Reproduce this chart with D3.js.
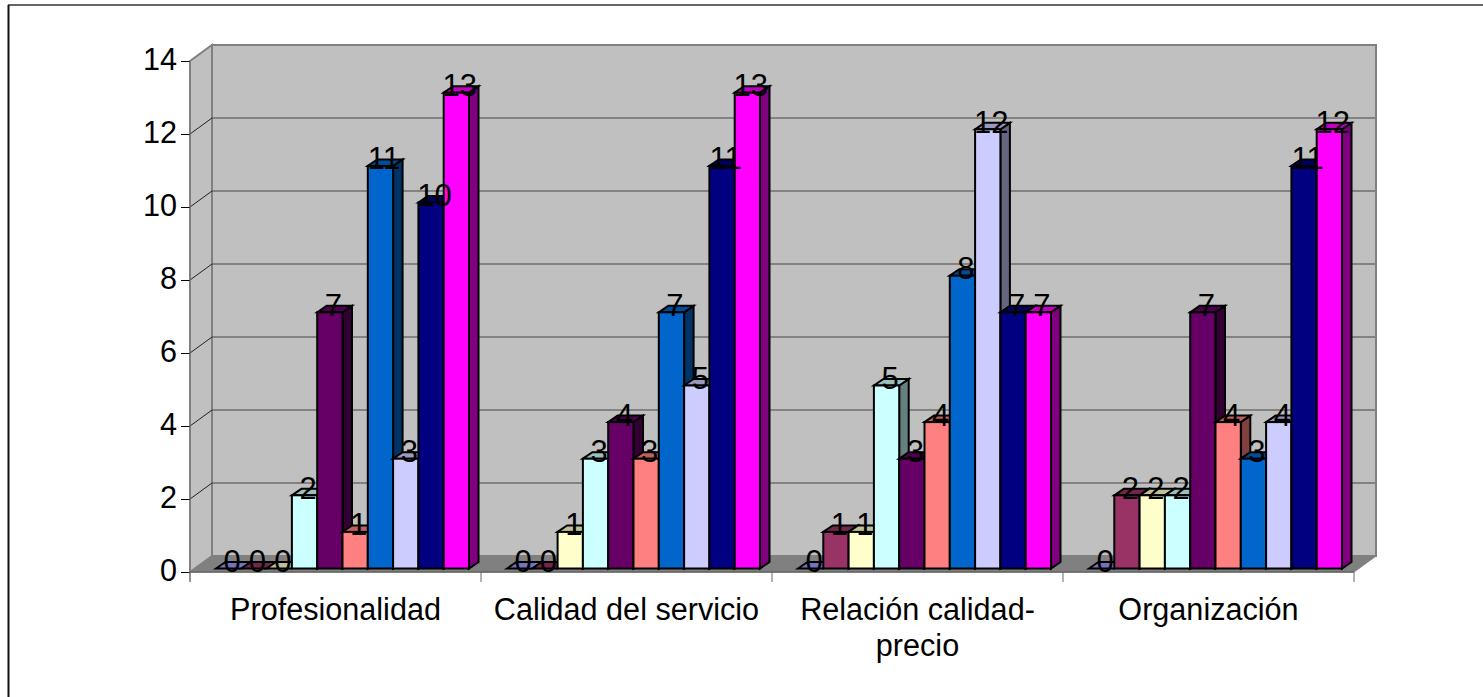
<!DOCTYPE html>
<html><head><meta charset="utf-8">
<script src="https://cdn.jsdelivr.net/npm/d3@7/dist/d3.min.js"></script>
<style>html,body{margin:0;padding:0;background:#fff}svg{display:block}text{font-family:"Liberation Sans",Arial,sans-serif;fill:#000}</style>
</head><body><svg id="c" width="1483" height="697"></svg>
<script>
const categories = ["Profesionalidad","Calidad del servicio","Relación calidad-precio","Organización"];
const categoryLines = [["Profesionalidad"],["Calidad del servicio"],["Relación calidad-","precio"],["Organización"]];
const seriesColors = ["#9999FF","#993366","#FFFFCC","#CCFFFF","#660066","#FF8080","#0066CC","#CCCCFF","#000080","#FF00FF"];
const s0 = [0,0,0,0], s1 = [0,0,1,2], s2 = [0,1,1,2], s3 = [2,3,5,2], s4 = [7,4,3,7];
const s5 = [1,3,4,4], s6 = [11,7,8,3], s7 = [3,5,12,4], s8 = [10,11,7,11], s9 = [13,13,7,12];
const seriesValues = [s0,s1,s2,s3,s4,s5,s6,s7,s8,s9];
const yTicks = [0,2,4,6,8,10,12,14];

const svg = d3.select("#c");
const L=190,R=1354,B=572,T=61,DX=22,DY=16;
const y = d3.scaleLinear().domain([0,14]).range([B,T]);
const x0 = d3.scaleBand().domain(categories).range([L,R]).paddingInner(0).paddingOuter(0);
const x1 = d3.scaleBand().domain(d3.range(10)).range([26,26+253]);
const barBase=568.5, barDX=9.5, barDY=6.5;
const yBar = d3.scaleLinear().domain([0,14]).range([barBase,barBase-14*36.6]);

svg.append("line").attr("x1",8).attr("x2",1483).attr("y1",5).attr("y2",5).attr("stroke","#333").attr("stroke-width",1.5);
svg.append("line").attr("x1",8.5).attr("x2",8.5).attr("y1",5).attr("y2",697).attr("stroke","#111").attr("stroke-width",2);

// walls
const wall="#C0C0C0", edge="#808080";
const poly=(pts,fill,stroke,sw)=>svg.append("polygon").attr("points",pts.map(p=>p.join(",")).join(" ")).attr("fill",fill).attr("stroke",stroke||"none").attr("stroke-width",sw||0);
poly([[L+DX,T-DY],[R+DX,T-DY],[R+DX,B-DY],[L+DX,B-DY]],wall,edge,2);
poly([[L,T],[L+DX,T-DY],[L+DX,B-DY],[L,B]],wall,edge,2);
poly([[L,B],[L+DX,B-DY],[R+DX,B-DY],[R,B]],edge,edge,1);

// gridlines
yTicks.slice(1,-1).forEach(t=>{
  svg.append("line").attr("x1",L+DX).attr("x2",R+DX-1).attr("y1",y(t)-DY).attr("y2",y(t)-DY).attr("stroke","#444").attr("stroke-width",1);
  svg.append("line").attr("x1",L).attr("x2",L+DX).attr("y1",y(t)).attr("y2",y(t)-DY).attr("stroke","#222").attr("stroke-width",1);
});

// axes
const yAxis = d3.axisLeft(y).tickValues(yTicks).tickSize(9).tickPadding(4);
const gy = svg.append("g").attr("transform",`translate(${L},0)`).call(yAxis);
gy.select(".domain").remove();
gy.selectAll("line").attr("stroke","#000");
gy.selectAll("text").style("font-size","30.6px").attr("fill","#000").attr("dy","0.28em");
svg.append("line").attr("x1",L).attr("x2",L).attr("y1",T).attr("y2",B+10).attr("stroke","#808080");
svg.append("line").attr("x1",L).attr("x2",R).attr("y1",B).attr("y2",B).attr("stroke","#666").attr("stroke-width",1.5);
[...categories.map(c=>x0(c)),R].forEach(v=>svg.append("line").attr("x1",v).attr("x2",v).attr("y1",B).attr("y2",B+10).attr("stroke","#666"));
categories.forEach((c,i)=>{
  const t=svg.append("text").attr("text-anchor","middle").style("font-size","30.6px");
  categoryLines[i].forEach((ln,j)=>t.append("tspan").attr("x",x0(c)+x0.bandwidth()/2).attr("y",620+j*36).text(ln));
});

// bars
const dark=(c,k)=>{const o=d3.rgb(c);return d3.rgb(o.r*k,o.g*k,o.b*k).formatHex();};
categories.forEach((c,i)=>{
  seriesValues.forEach((vals,s)=>{
    const v=vals[i], xa=x0(c)+x1(s), xb=xa+x1.bandwidth(), yt=yBar(v), yb=yBar(0), col=seriesColors[s];
    const g=svg.append("g").attr("stroke","#000").attr("stroke-width",2).attr("stroke-linejoin","miter");
    g.append("polygon").attr("points",[[xb,yt],[xb+barDX,yt-barDY],[xb+barDX,yb-barDY],[xb,yb]].join(" ")).attr("fill",dark(col,.5));
    g.append("polygon").attr("points",[[xa,yt],[xa+barDX,yt-barDY],[xb+barDX,yt-barDY],[xb,yt]].join(" ")).attr("fill",dark(col,.75));
    g.append("rect").attr("x",xa).attr("y",yt).attr("width",xb-xa).attr("height",yb-yt).attr("fill",col);
  });
});
// data labels
categories.forEach((c,i)=>{
  seriesValues.forEach((vals,s)=>{
    const v=vals[i];
    svg.append("text").attr("text-anchor","middle").attr("x",x0(c)+x1(s)+x1.bandwidth()/2+3.5).attr("y",yBar(v)+3.5).style("font-size","31px").text(v);
  });
});
</script></body></html>
